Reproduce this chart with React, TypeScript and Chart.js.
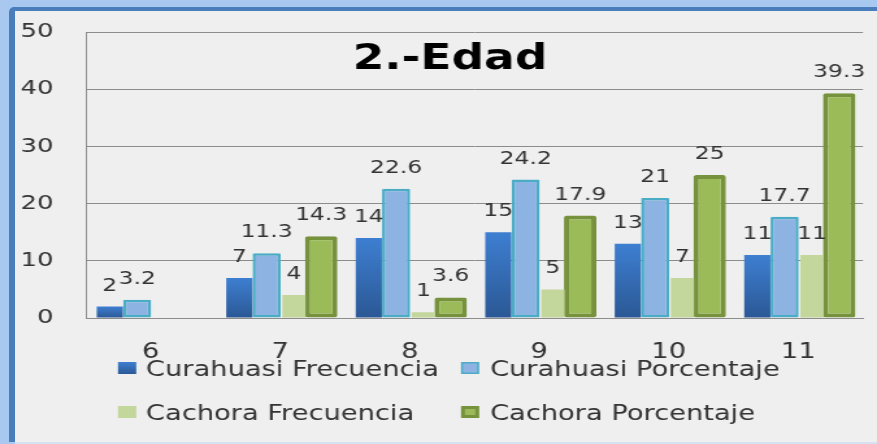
import React, { useEffect, useRef } from 'react';
import { Chart, registerables } from 'chart.js';

Chart.register(...registerables);

const categories = ['6', '7', '8', '9', '10', '11'];
const curahuasiFrecuencia: (number | null)[] = [2, 7, 14, 15, 13, 11];
const curahuasiPorcentaje: (number | null)[] = [3.2, 11.3, 22.6, 24.2, 21, 17.7];
const cachoraFrecuencia: (number | null)[] = [null, 4, 1, 5, 7, 11];
const cachoraPorcentaje: (number | null)[] = [null, 14.3, 3.6, 17.9, 25, 39.3];
const seriesNames = ['Curahuasi Frecuencia', 'Curahuasi Porcentaje', 'Cachora Frecuencia', 'Cachora Porcentaje'];
const yTicks = [0, 10, 20, 30, 40, 50];
const titleText = '2.-Edad';

const W = 877;
const H = 444;
const IW = 675; // internal canvas width, stretched horizontally to W
const SX = W / IW;
const FONT = '"DejaVu Sans", Verdana, sans-serif';
const TEXT = '#333333';

export default function App() {
  const ref = useRef<HTMLCanvasElement>(null);

  useEffect(() => {
    const canvas = ref.current!;

    const blueFill = (c: any) => {
      const chart = c.chart;
      const y = chart.scales && chart.scales.y;
      if (c.type !== 'data' || !y || c.raw == null) return '#3771c0';
      const top = y.getPixelForValue(c.raw);
      const bot = y.getPixelForValue(0);
      if (!isFinite(top) || !isFinite(bot)) return '#3771c0';
      const g = chart.ctx.createLinearGradient(0, top, 0, bot);
      g.addColorStop(0, '#3e7fd1');
      g.addColorStop(1, '#2b5895');
      return g;
    };

    const labelsPlugin = {
      id: 'valueLabels',
      afterDatasetsDraw(chart: any) {
        const ctx = chart.ctx;
        ctx.save();
        ctx.font = `18px ${FONT}`;
        ctx.fillStyle = TEXT;
        ctx.textAlign = 'center';
        ctx.textBaseline = 'alphabetic';
        chart.data.datasets.forEach((ds: any, i: number) => {
          const meta = chart.getDatasetMeta(i);
          meta.data.forEach((el: any, j: number) => {
            const v = ds.data[j];
            if (v == null) return;
            ctx.fillText(String(v), el.x, el.y - 16);
          });
        });
        ctx.restore();
      },
    };

    const decorPlugin = {
      id: 'decor',
      afterDraw(chart: any) {
        const ctx = chart.ctx;
        ctx.save();
        // title
        ctx.font = `bold 35px ${FONT}`;
        ctx.fillStyle = '#000000';
        ctx.textAlign = 'center';
        ctx.textBaseline = 'alphabetic';
        ctx.fillText(titleText, 450 / SX, 69);

        // legend
        const pos = [
          { mx: 118 / SX, tx: 146 / SX, my: 362, ty: 376 },
          { mx: 461 / SX, tx: 490 / SX, my: 362, ty: 376 },
          { mx: 118 / SX, tx: 146 / SX, my: 406, ty: 420 },
          { mx: 461 / SX, tx: 490 / SX, my: 406, ty: 420 },
        ];
        const mw = 14;
        const mh = 12;
        chart.data.datasets.forEach((ds: any, i: number) => {
          const p = pos[i];
          if (i === 0) {
            const g = ctx.createLinearGradient(0, p.my, 0, p.my + mh);
            g.addColorStop(0, '#3e7fd1');
            g.addColorStop(1, '#2b5895');
            ctx.fillStyle = g;
            ctx.fillRect(p.mx, p.my, mw, mh);
          } else if (i === 1) {
            ctx.fillStyle = ds.borderColor;
            ctx.fillRect(p.mx, p.my, mw, mh);
            ctx.fillStyle = ds.backgroundColor;
            ctx.fillRect(p.mx + 1.5, p.my + 1.5, mw - 3, mh - 3);
          } else if (i === 2) {
            ctx.fillStyle = ds.backgroundColor;
            ctx.fillRect(p.mx, p.my, mw, mh);
          } else {
            ctx.fillStyle = ds.borderColor;
            ctx.fillRect(p.mx, p.my, mw, mh);
            ctx.fillStyle = ds.backgroundColor;
            ctx.fillRect(p.mx + 3, p.my + 3, mw - 6, mh - 6);
          }
          ctx.font = `21px ${FONT}`;
          ctx.fillStyle = TEXT;
          ctx.textAlign = 'left';
          ctx.textBaseline = 'alphabetic';
          ctx.fillText(ds.label, p.tx, p.ty);
        });
        ctx.restore();
      },
    };

    const chart = new Chart(canvas, {
      type: 'bar',
      data: {
        labels: categories,
        datasets: [
          {
            label: seriesNames[0],
            data: curahuasiFrecuencia,
            backgroundColor: blueFill,
            borderWidth: 0,
            barPercentage: 0.96,
            categoryPercentage: 0.843,
          },
          {
            label: seriesNames[1],
            data: curahuasiPorcentaje,
            backgroundColor: '#8db3e2',
            borderColor: '#4bacc6',
            borderWidth: 2.5,
            borderSkipped: false,
            borderRadius: 1,
            barPercentage: 1.03,
            categoryPercentage: 0.843,
          },
          {
            label: seriesNames[2],
            data: cachoraFrecuencia,
            backgroundColor: '#c3d69b',
            borderWidth: 0,
            barPercentage: 0.85,
            categoryPercentage: 0.843,
          },
          {
            label: seriesNames[3],
            data: cachoraPorcentaje,
            backgroundColor: '#9bbb59',
            borderColor: '#76923c',
            borderWidth: 4,
            borderSkipped: false,
            borderRadius: 2,
            barPercentage: 1.19,
            categoryPercentage: 0.843,
          },
        ] as any,
      },
      options: {
        responsive: false,
        devicePixelRatio: 1,
        animation: false,
        layout: { padding: { left: 0, top: 32, right: IW - 863 / SX, bottom: 0 } },
        plugins: {
          legend: { display: false },
          title: { display: false },
          tooltip: { enabled: false },
        },
        scales: {
          x: {
            grid: { display: false },
            border: { display: true, color: '#8c8c8c', width: 1 },
            ticks: { font: { family: FONT, size: 21 }, color: TEXT, padding: 14 },
            afterFit: (s: any) => {
              s.height = H - 318;
              s.paddingLeft = 0;
              s.paddingRight = 0;
            },
          },
          y: {
            min: 0,
            max: 50,
            afterBuildTicks: (s: any) => {
              s.ticks = yTicks.map((v) => ({ value: v }));
            },
            grid: { color: '#8c8c8c', lineWidth: 1, drawTicks: false },
            border: { display: true, color: '#8c8c8c', width: 1 },
            ticks: { font: { family: FONT, size: 20 }, color: TEXT, padding: 25 },
            afterFit: (s: any) => {
              s.width = 86 / SX;
              s.paddingTop = 0;
              s.paddingBottom = 0;
            },
          },
        },
      } as any,
      plugins: [labelsPlugin, decorPlugin],
    });
    return () => chart.destroy();
  }, []);

  return (
    <div
      style={{
        position: 'fixed',
        left: 0,
        top: 0,
        width: W,
        height: H,
        overflow: 'hidden',
        background: '#a8c8ef',
      }}
    >
      <div
        style={{
          position: 'absolute',
          left: 9,
          top: 7,
          right: -10,
          bottom: 2,
          background: '#efefef',
          borderLeft: '6px solid #4a7dbb',
          borderTop: '4px solid #4a7dbb',
          borderTopLeftRadius: 5,
        }}
      />
      <div style={{ position: 'absolute', left: 15, right: 0, bottom: 0, height: 2, background: '#d6e2f0' }} />
      <canvas
        ref={ref}
        width={IW}
        height={H}
        style={{ position: 'absolute', left: 0, top: 0, transform: `scaleX(${SX})`, transformOrigin: '0 0' }}
      />
    </div>
  );
}
